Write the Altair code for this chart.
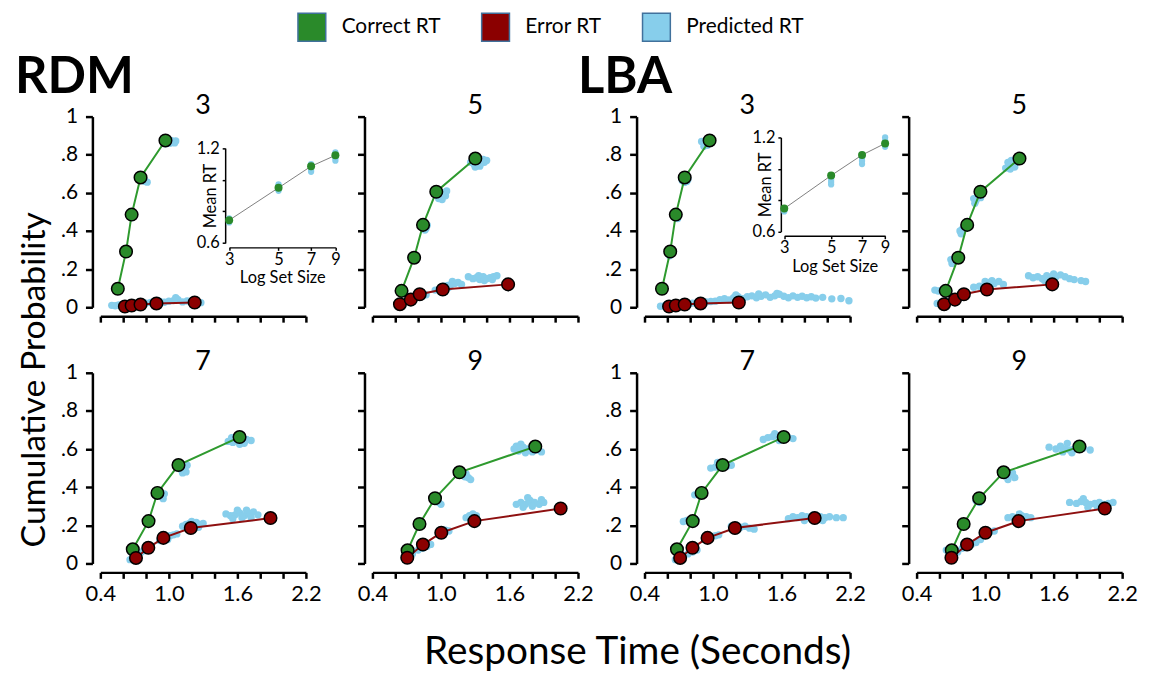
import altair as alt
import pandas as pd

FONT = "Lato"
W, H = 207, 192

SET_SIZES = [3, 5, 7, 9]
SERIES = ["Correct RT", "Error RT", "Predicted RT"]
SERIES_COLORS = ["#2A8A2A", "#8B0000", "#87CEEB"]
LINE_COLORS = ["#2E9A2E", "#8E1010"]

X_TICKS = [0.4, 0.6, 0.8, 1.0, 1.2, 1.4, 1.6, 1.8, 2.0, 2.2]
Y_TICKS = [0, 0.2, 0.4, 0.6, 0.8, 1]

# Observed quantiles (defective CDF), per set size
CORRECT_RT = {3: [0.553, 0.625, 0.674, 0.752, 0.970],
              5: [0.655, 0.765, 0.843, 0.959, 1.301],
              7: [0.684, 0.822, 0.900, 1.084, 1.619],
              9: [0.708, 0.812, 0.948, 1.162, 1.826]}
CORRECT_P = {3: [0.097, 0.292, 0.486, 0.681, 0.875],
             5: [0.086, 0.260, 0.432, 0.606, 0.780],
             7: [0.074, 0.222, 0.370, 0.516, 0.663],
             9: [0.069, 0.207, 0.342, 0.478, 0.613]}
ERROR_RT = {3: [0.615, 0.674, 0.752, 0.891, 1.226],
            5: [0.641, 0.736, 0.814, 1.016, 1.588],
            7: [0.712, 0.820, 0.952, 1.192, 1.890],
            9: [0.705, 0.842, 1.003, 1.293, 2.048]}
ERROR_P = {3: [0.004, 0.009, 0.014, 0.020, 0.025],
           5: [0.016, 0.040, 0.068, 0.093, 0.120],
           7: [0.029, 0.082, 0.134, 0.186, 0.238],
           9: [0.030, 0.099, 0.161, 0.222, 0.288]}

# Predicted (simulated) quantiles: (rt, p)
PRED_RDM_3 = [(0.96, 0.870), (0.98, 0.865), (1.00, 0.870), (1.02, 0.875), (1.04, 0.868), (1.06, 0.872),
              (0.99, 0.880), (1.01, 0.860), (1.05, 0.862), (0.97, 0.858),
              (0.75, 0.672), (0.77, 0.665), (0.79, 0.660), (0.81, 0.656), (0.76, 0.680), (0.78, 0.675),
              (0.665, 0.478), (0.675, 0.470), (0.63, 0.290), (0.55, 0.100),
              (0.50, 0.010), (0.53, 0.008), (0.56, 0.012), (0.60, 0.010), (0.64, 0.015), (0.68, 0.018),
              (0.72, 0.020), (0.76, 0.016), (0.80, 0.022), (0.84, 0.025), (0.88, 0.028), (0.92, 0.030),
              (0.96, 0.026), (1.00, 0.032), (1.04, 0.035), (1.08, 0.040), (1.12, 0.028), (1.16, 0.033),
              (1.20, 0.030), (1.24, 0.026), (1.28, 0.024), (0.90, 0.036), (1.06, 0.050)]
PRED_RDM_5 = [(1.26, 0.760), (1.29, 0.750), (1.32, 0.765), (1.35, 0.755), (1.38, 0.760), (1.40, 0.770),
              (1.30, 0.735), (1.34, 0.740), (1.37, 0.775), (1.28, 0.775),
              (0.96, 0.600), (0.99, 0.590), (1.02, 0.600), (1.04, 0.585), (0.98, 0.570), (1.01, 0.565), (1.05, 0.610),
              (0.85, 0.420), (0.87, 0.415), (0.88, 0.430), (0.86, 0.405), (0.77, 0.255), (0.66, 0.085),
              (0.66, 0.020), (0.69, 0.030), (0.72, 0.035), (0.75, 0.040), (0.78, 0.050), (0.81, 0.055),
              (0.84, 0.060), (0.87, 0.065),
              (1.00, 0.100), (1.03, 0.110), (1.06, 0.115), (1.09, 0.120), (1.12, 0.125), (1.15, 0.130),
              (1.18, 0.120), (1.07, 0.105), (1.10, 0.135), (0.95, 0.090),
              (1.24, 0.160), (1.28, 0.150), (1.31, 0.155), (1.34, 0.145), (1.37, 0.160), (1.40, 0.150),
              (1.43, 0.155), (1.46, 0.160), (1.49, 0.165), (1.33, 0.165), (1.38, 0.140), (1.45, 0.145)]
PRED_LBA_3 = [(0.90, 0.870), (0.93, 0.860), (0.95, 0.850), (0.92, 0.845), (0.96, 0.865), (0.98, 0.880), (0.94, 0.875),
              (0.73, 0.665), (0.75, 0.655), (0.77, 0.660), (0.78, 0.670),
              (0.67, 0.470), (0.69, 0.465), (0.68, 0.480), (0.61, 0.280), (0.62, 0.270), (0.55, 0.100),
              (0.54, 0.005), (0.58, 0.010), (0.62, 0.012), (0.66, 0.015), (0.70, 0.014), (0.74, 0.020),
              (0.78, 0.018), (0.82, 0.022), (0.86, 0.025), (0.90, 0.020), (0.94, 0.028), (0.98, 0.030),
              (1.02, 0.032), (1.06, 0.040), (1.10, 0.045), (1.14, 0.038), (1.18, 0.050), (1.22, 0.055),
              (1.26, 0.045), (1.30, 0.055), (1.34, 0.060), (1.38, 0.050), (1.42, 0.058), (1.46, 0.065),
              (1.50, 0.052), (1.54, 0.060), (1.58, 0.068), (1.62, 0.058), (1.66, 0.050), (1.70, 0.060),
              (1.74, 0.052), (1.78, 0.058), (1.82, 0.050), (1.86, 0.055), (1.90, 0.048), (1.96, 0.052),
              (2.04, 0.044), (2.12, 0.046), (2.19, 0.034), (1.20, 0.065), (1.40, 0.070), (1.56, 0.072)]
PRED_LBA_5 = [(1.18, 0.730), (1.21, 0.740), (1.24, 0.745), (1.27, 0.760), (1.20, 0.760), (1.23, 0.770),
              (1.26, 0.735), (1.30, 0.765), (1.22, 0.725),
              (0.90, 0.570), (0.92, 0.560), (0.94, 0.590), (0.96, 0.575), (0.91, 0.545),
              (0.78, 0.400), (0.80, 0.410), (0.82, 0.420), (0.79, 0.385),
              (0.70, 0.250), (0.72, 0.240), (0.74, 0.260), (0.71, 0.230),
              (0.56, 0.090), (0.59, 0.085), (0.62, 0.090), (0.66, 0.095),
              (0.58, 0.020), (0.62, 0.025), (0.66, 0.030), (0.70, 0.035), (0.74, 0.040), (0.78, 0.050),
              (0.81, 0.060), (0.76, 0.055),
              (0.90, 0.105), (0.95, 0.110), (1.00, 0.120), (1.04, 0.130), (1.08, 0.125), (1.12, 0.135),
              (1.16, 0.120), (1.06, 0.140), (1.00, 0.135),
              (1.38, 0.165), (1.42, 0.155), (1.46, 0.160), (1.50, 0.150), (1.54, 0.165), (1.58, 0.155),
              (1.62, 0.160), (1.66, 0.170), (1.70, 0.160), (1.74, 0.150), (1.78, 0.145), (1.84, 0.140),
              (1.88, 0.135), (1.52, 0.140), (1.60, 0.175)]
PRED_RDM_7 = [(1.52, 0.640), (1.56, 0.635), (1.60, 0.645), (1.64, 0.640), (1.68, 0.650), (1.72, 0.645),
              (1.55, 0.660), (1.62, 0.625), (1.66, 0.630),
              (1.08, 0.500), (1.11, 0.490), (1.14, 0.505), (1.16, 0.515), (1.12, 0.475), (1.15, 0.480), (1.10, 0.525),
              (0.90, 0.360), (0.93, 0.355), (0.96, 0.365), (0.95, 0.340), (0.83, 0.215), (0.67, 0.060), (0.70, 0.065),
              (0.66, 0.020), (0.69, 0.030), (0.72, 0.040), (0.76, 0.060), (0.79, 0.070),
              (0.92, 0.120), (0.95, 0.130), (0.98, 0.140), (1.01, 0.145), (1.04, 0.150), (1.07, 0.155), (0.99, 0.125),
              (1.12, 0.195), (1.15, 0.205), (1.18, 0.210), (1.21, 0.200), (1.24, 0.215), (1.27, 0.205),
              (1.30, 0.210), (1.20, 0.220), (1.26, 0.190),
              (1.50, 0.260), (1.54, 0.250), (1.58, 0.255), (1.62, 0.265), (1.66, 0.250), (1.70, 0.260),
              (1.74, 0.270), (1.78, 0.255), (1.56, 0.235), (1.64, 0.240), (1.72, 0.240), (1.60, 0.280), (1.68, 0.280)]
PRED_RDM_9 = [(1.64, 0.600), (1.68, 0.590), (1.72, 0.610), (1.76, 0.600), (1.80, 0.585), (1.84, 0.595),
              (1.88, 0.585), (1.70, 0.625), (1.74, 0.580), (1.66, 0.615),
              (1.18, 0.465), (1.21, 0.455), (1.24, 0.450), (1.26, 0.440), (1.22, 0.470),
              (0.96, 0.330), (0.98, 0.320), (1.00, 0.310), (0.82, 0.215), (0.70, 0.060),
              (0.69, 0.030), (0.72, 0.040), (0.75, 0.050), (0.80, 0.070), (0.84, 0.080), (0.88, 0.090), (0.91, 0.100),
              (0.98, 0.160), (1.01, 0.170), (1.04, 0.175), (1.07, 0.170),
              (1.22, 0.240), (1.25, 0.250), (1.28, 0.260), (1.31, 0.250), (1.26, 0.235),
              (1.66, 0.310), (1.70, 0.320), (1.74, 0.310), (1.78, 0.330), (1.82, 0.320), (1.86, 0.310),
              (1.90, 0.320), (1.72, 0.295), (1.80, 0.300), (1.76, 0.345), (1.88, 0.335)]
PRED_LBA_7 = [(1.44, 0.650), (1.48, 0.660), (1.52, 0.665), (1.56, 0.670), (1.60, 0.655), (1.66, 0.660),
              (1.70, 0.655), (1.54, 0.680), (1.58, 0.645),
              (0.98, 0.500), (1.02, 0.505), (1.06, 0.520), (1.12, 0.510), (1.16, 0.515), (1.04, 0.530),
              (0.84, 0.360), (0.87, 0.370), (0.90, 0.365),
              (0.74, 0.220), (0.77, 0.225), (0.80, 0.215), (0.85, 0.230),
              (0.66, 0.080), (0.69, 0.070), (0.71, 0.075),
              (0.67, 0.020), (0.70, 0.030), (0.74, 0.040), (0.78, 0.050), (0.82, 0.060), (0.86, 0.070),
              (0.94, 0.130), (0.98, 0.140), (1.02, 0.145), (1.05, 0.150),
              (1.16, 0.195), (1.20, 0.200), (1.24, 0.190), (1.28, 0.195), (1.32, 0.185), (1.36, 0.180), (1.22, 0.180),
              (1.66, 0.235), (1.70, 0.245), (1.74, 0.240), (1.78, 0.250), (1.82, 0.245), (1.86, 0.240),
              (1.90, 0.235), (1.94, 0.245), (1.98, 0.240), (2.02, 0.245), (2.08, 0.240), (2.14, 0.240),
              (1.80, 0.225), (1.88, 0.255), (1.96, 0.225)]
PRED_LBA_9 = [(1.56, 0.610), (1.62, 0.600), (1.66, 0.615), (1.70, 0.600), (1.74, 0.595), (1.78, 0.600),
              (1.72, 0.630), (1.76, 0.580), (1.86, 0.605), (1.92, 0.595), (1.68, 0.585),
              (1.14, 0.470), (1.18, 0.460), (1.22, 0.465), (1.26, 0.450), (1.20, 0.440), (1.24, 0.475),
              (0.92, 0.330), (0.95, 0.320), (0.97, 0.335), (0.80, 0.210),
              (0.66, 0.070), (0.69, 0.075), (0.73, 0.060),
              (0.72, 0.050), (0.76, 0.060), (0.80, 0.080), (0.84, 0.090), (0.88, 0.100), (0.92, 0.110), (0.96, 0.125),
              (1.00, 0.155), (1.04, 0.165), (1.08, 0.170),
              (1.20, 0.240), (1.24, 0.245), (1.28, 0.235), (1.32, 0.250), (1.36, 0.245), (1.40, 0.240), (1.30, 0.260),
              (1.74, 0.320), (1.80, 0.315), (1.84, 0.325), (1.88, 0.320), (1.92, 0.310), (1.96, 0.315),
              (2.00, 0.320), (2.04, 0.310), (2.08, 0.315), (2.12, 0.320), (1.86, 0.340), (1.98, 0.300), (1.90, 0.295)]

PRED = {("RDM", 3): PRED_RDM_3, ("RDM", 5): PRED_RDM_5, ("RDM", 7): PRED_RDM_7, ("RDM", 9): PRED_RDM_9,
        ("LBA", 3): PRED_LBA_3, ("LBA", 5): PRED_LBA_5, ("LBA", 7): PRED_LBA_7, ("LBA", 9): PRED_LBA_9}

# Inset: mean RT by set size
INSET_OBS_RDM = [0.744, 0.949, 1.085, 1.154]
INSET_OBS_LBA = [0.746, 0.957, 1.088, 1.162]
INSET_PRED_RDM = [(3, 0.730), (3, 0.742), (3, 0.755), (5, 0.930), (5, 0.942), (5, 0.958), (5, 0.970),
                  (7, 1.050), (7, 1.062), (7, 1.080), (7, 1.098), (9, 1.120), (9, 1.138), (9, 1.158), (9, 1.172)]
INSET_PRED_LBA = [(3, 0.728), (3, 0.740), (5, 0.900), (5, 0.915), (5, 0.930), (5, 0.948),
                  (7, 1.030), (7, 1.050), (7, 1.070), (7, 1.090), (9, 1.140), (9, 1.160), (9, 1.180), (9, 1.200)]

INSET_GEOM = {"RDM": dict(xr=[129.7, 236.7], yr=[127.3, 31.7], yoff=-125.7, xoff=-60.3),
              "LBA": dict(xr=[140.7, 242.3], yr=[115.7, 21.0], yoff=-137.3, xoff=-72.0)}

FILL_SCALE = alt.Scale(domain=SERIES, range=SERIES_COLORS)
STROKE_SCALE = alt.Scale(domain=SERIES[:2], range=LINE_COLORS)
LEGEND = alt.Legend(title=None)

X_LABEL_EXPR = ("indexof(['0.4','1.0','1.6','2.2'], format(datum.value, '.1f')) >= 0 "
                "? format(datum.value, '.1f') : ''")
Y_LABEL_EXPR = ("datum.value == 0 ? '0' : datum.value == 1 ? '1' : "
                "replace(format(datum.value, '.1f'), '0.', '.')")


def text_layer(txt, x, y, size, weight="normal", angle=0, align="center", baseline="alphabetic"):
    df = pd.DataFrame({"t": [txt]})
    return alt.Chart(df).mark_text(font=FONT, fontSize=size, fontWeight=weight, angle=angle,
                                   align=align, baseline=baseline, color="black").encode(
        x=alt.value(x), y=alt.value(y), text="t:N")


def inset(model):
    g = INSET_GEOM[model]
    obs_vals = INSET_OBS_RDM if model == "RDM" else INSET_OBS_LBA
    pred_vals = INSET_PRED_RDM if model == "RDM" else INSET_PRED_LBA
    obs = pd.DataFrame({"ss": SET_SIZES, "mrt": obs_vals})
    pr = pd.DataFrame(pred_vals, columns=["ss", "mrt"])
    xs = alt.Scale(type="log", domain=[3, 9], range=g["xr"], nice=False, zero=False)
    ys = alt.Scale(domain=[0.6, 1.2], range=g["yr"], nice=False, zero=False)
    xa = alt.Axis(orient="bottom", offset=g["xoff"], values=SET_SIZES, format="d", title="Log Set Size",
                  labelFontSize=16.5, titleFontSize=16.5, titleFontWeight="normal", tickSize=3,
                  labelPadding=1, titlePadding=2, domainWidth=1.5, tickWidth=1.5, domainColor="black",
                  tickColor="black", labelFont=FONT, titleFont=FONT, grid=False, labelFlush=False)
    ya = alt.Axis(orient="left", offset=g["yoff"], values=[0.6, 0.8, 1.0, 1.2],
                  labelExpr="datum.value < 0.7 || datum.value > 1.1 ? format(datum.value, '.1f') : ''",
                  title="Mean RT", labelFontSize=16.5, titleFontSize=16.5, titleFontWeight="normal",
                  tickSize=3, labelPadding=3, domainWidth=1.5, tickWidth=1.5, domainColor="black",
                  tickColor="black", labelFont=FONT, titleFont=FONT, grid=False, labelFlush=False,
                  titleAngle=270, titleX=-7, titleY=(g["yr"][0] + g["yr"][1]) / 2,
                  titleAlign="center", titleBaseline="bottom")
    ex = alt.X("ss:Q", scale=xs, axis=xa)
    ey = alt.Y("mrt:Q", scale=ys, axis=ya)
    blue = alt.Chart(pr).mark_circle(size=40, color=SERIES_COLORS[2], opacity=1).encode(x=ex, y=ey)
    line = alt.Chart(obs).mark_line(color="#808080", strokeWidth=1).encode(x=ex, y=ey)
    pts = alt.Chart(obs).mark_circle(size=65, color=SERIES_COLORS[0], opacity=1).encode(x=ex, y=ey)
    return alt.layer(blue, line, pts)


def panel(model, size, col, row):
    show_y = col in (0, 2)
    show_x = row == 1
    rows = []
    for i, (rt, p) in enumerate(zip(CORRECT_RT[size], CORRECT_P[size])):
        rows.append({"kind": "Correct RT", "q": i, "rt": rt, "p": p})
    for i, (rt, p) in enumerate(zip(ERROR_RT[size], ERROR_P[size])):
        rows.append({"kind": "Error RT", "q": i, "rt": rt, "p": p})
    obs = pd.DataFrame(rows)
    pr = pd.DataFrame(PRED[(model, size)], columns=["rt", "p"])
    pr["kind"] = "Predicted RT"

    xs = alt.Scale(domain=[0.4, 2.2], nice=False, zero=False)
    ys = alt.Scale(domain=[0, 1], nice=False, zero=False)
    xa = alt.Axis(values=X_TICKS, labelExpr=X_LABEL_EXPR, labels=show_x, offset=9, tickSize=6,
                  domainWidth=2.5, tickWidth=2.5, domainColor="black", tickColor="black",
                  labelFontSize=22, labelFont=FONT, labelColor="black", labelPadding=5,
                  grid=False, title=None, labelFlush=False, labelOverlap=False)
    ya = alt.Axis(values=Y_TICKS, labelExpr=Y_LABEL_EXPR, labels=show_y, offset=8, tickSize=7,
                  domainWidth=2.5, tickWidth=2.5, domainColor="black", tickColor="black",
                  labelFontSize=21, labelFont=FONT, labelColor="black", labelPadding=8,
                  grid=False, title=None, labelFlush=False, labelOverlap=False)
    ex = alt.X("rt:Q", scale=xs, axis=xa)
    ey = alt.Y("p:Q", scale=ys, axis=ya)

    blue = alt.Chart(pr).mark_circle(size=55, opacity=1).encode(
        x=ex, y=ey, fill=alt.Fill("kind:N", scale=FILL_SCALE, legend=LEGEND))
    lines = alt.Chart(obs).mark_line(strokeWidth=2).encode(
        x=ex, y=ey, stroke=alt.Stroke("kind:N", scale=STROKE_SCALE, legend=None), order="q:Q")
    pts = alt.Chart(obs).mark_circle(size=160, opacity=1, stroke="black", strokeWidth=1.5).encode(
        x=ex, y=ey, fill=alt.Fill("kind:N", scale=FILL_SCALE, legend=LEGEND))
    layers = [blue, lines, pts, text_layer(str(size), W / 2, -3, 27)]

    if model == "RDM" and size == 3:
        layers.append(text_layer("RDM", -86, -24, 51, weight="bold", align="left"))
        layers.append(text_layer("Cumulative Probability", -66, 265, 34, angle=270, baseline="middle"))
    if model == "LBA" and size == 3:
        layers.append(text_layer("LBA", -67, -24, 51, weight="bold", align="left"))
    if model == "RDM" and size == 9:
        layers.append(text_layer("Response Time (Seconds)", 267, 293, 39))

    main = alt.layer(*layers)
    if size == 3:
        return alt.layer(main, inset(model)).resolve_scale(x="independent", y="independent").properties(
            width=W, height=H)
    return main.properties(width=W, height=H)


panels = [panel("RDM", 3, 0, 0), panel("RDM", 5, 1, 0), panel("LBA", 3, 2, 0), panel("LBA", 5, 3, 0),
          panel("RDM", 7, 0, 1), panel("RDM", 9, 1, 1), panel("LBA", 7, 2, 1), panel("LBA", 9, 3, 1)]

chart = alt.concat(*panels, columns=4, spacing={"row": 66, "column": 67}, bounds="flush").properties(
    padding={"left": 7, "top": 2, "right": 5, "bottom": 5}
).configure_view(stroke=None).configure_legend(
    orient="none", legendX=198, legendY=-105, direction="horizontal", columns=3,
    symbolType="square", symbolSize=784, symbolStrokeColor="#41719C", symbolStrokeWidth=1.5,
    symbolOpacity=1, labelFontSize=21, labelFont=FONT, labelColor="black", labelOffset=15,
    columnPadding=38, padding=0
).configure_text(font=FONT)

chart.save("out.html", embed_options={"renderer": "svg", "actions": False})
